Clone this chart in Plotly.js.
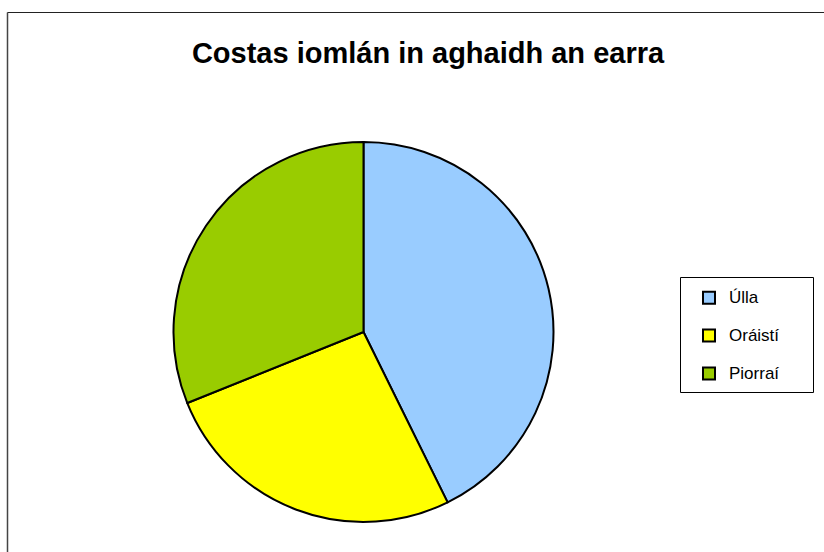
<!DOCTYPE html>
<html>
<head>
<meta charset="utf-8">
<script src="https://cdn.plot.ly/plotly-3.0.1.min.js"></script>
<style>html,body{margin:0;padding:0;background:#fff;}#chart{width:824px;height:552px;}</style>
</head>
<body>
<div id="chart"></div>
<script>
const chartTitle = 'Costas iomlán in aghaidh an earra';
const categories = ['Úlla', 'Oráistí', 'Piorraí'];
const values = [42.7, 26.2, 31.1];
const sliceColors = ['#99CCFF', '#FFFF00', '#99CC00'];

const W = 824, H = 552;
const px = x => x / W;
const py = y => 1 - y / H;

const legendLabels = categories.map(c => '<span style="font-size:17px">' + c + '</span><br>&nbsp;');

const trace = {
  type: 'pie',
  labels: legendLabels,
  values: values,
  sort: false,
  direction: 'clockwise',
  rotation: 0,
  textinfo: 'none',
  hoverinfo: 'percent',
  marker: { colors: sliceColors, line: { color: '#000', width: 2 } },
  domain: { x: [px(173.5), px(553.5)], y: [py(522), py(142)] }
};

const layout = {
  width: W, height: H,
  margin: { l: 0, r: 0, t: 0, b: 0, pad: 0 },
  paper_bgcolor: '#fff',
  font: { family: 'Liberation Sans, Arial, sans-serif', color: '#000' },
  title: {
    text: '<b>' + chartTitle + '</b>',
    font: { family: 'Liberation Sans, Arial, sans-serif', size: 29, color: '#000' },
    xref: 'paper', yref: 'container', x: px(428), y: 1 - 53 / H,
    xanchor: 'center', yanchor: 'middle'
  },
  showlegend: true,
  legend: {
    x: px(689), y: py(282.5), xanchor: 'left', yanchor: 'top',
    bgcolor: 'rgba(0,0,0,0)', borderwidth: 0,
    font: { family: 'Liberation Sans, Arial, sans-serif', size: 13.4, color: '#000' },
    valign: 'top', itemclick: false, itemdoubleclick: false
  },
  shapes: [
    { type: 'rect', xref: 'paper', yref: 'paper', x0: px(680.5), x1: px(813.5), y0: py(392.5), y1: py(277.5),
      line: { color: '#000', width: 1 }, fillcolor: 'rgba(0,0,0,0)' },
    { type: 'line', xref: 'paper', yref: 'paper', x0: px(7.5), x1: px(7.5), y0: py(12.5), y1: -0.1,
      line: { color: '#444', width: 1.5 } },
    { type: 'line', xref: 'paper', yref: 'paper', x0: px(7.5), x1: 1.1, y0: py(12.5), y1: py(12.5),
      line: { color: '#222', width: 1.2 } }
  ]
};

Plotly.newPlot('chart', [trace], layout, { displayModeBar: false, staticPlot: true });
</script>
</body>
</html>
